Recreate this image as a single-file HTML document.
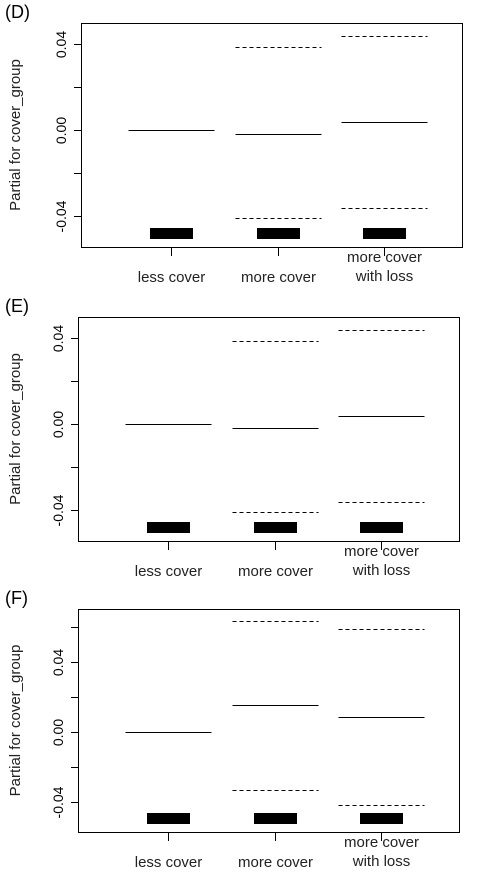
<!DOCTYPE html>
<html><head><meta charset="utf-8"><style>
body{margin:0;background:#fff;width:499px;height:879px;overflow:hidden}
svg{display:block;font-family:"Liberation Sans",sans-serif}
</style></head><body>
<svg id="s" width="499" height="879"></svg>
<script>
const categories=["less cover","more cover","more cover\nwith loss"];
const panelLabels=["(D)","(E)","(F)"];
const fitD=[0,-0.0018,0.004], upperD=[null,0.039,0.044], lowerD=[null,-0.041,-0.036];
const fitE=[0,-0.0018,0.004], upperE=[null,0.039,0.044], lowerE=[null,-0.041,-0.036];
const fitF=[0,0.0154,0.0086], upperF=[null,0.0634,0.0589], lowerF=[null,-0.033,-0.0417];
const ticksDE=[-0.04,-0.02,0,0.02,0.04];
const tickLabelsDE=["-0.04","","0.00","","0.04"];
const ticksF=[-0.04,-0.02,0,0.02,0.04,0.06];
const tickLabelsF=["-0.04","","0.00","","0.04",""];
const panels=[
 {name:"d",left:81,right:462,top:23,bottom:247,ymin:-0.0543,ymax:0.05,fit:fitD,up:upperD,lo:lowerD,ticks:ticksDE,tl:tickLabelsDE,c0:171,step:106.5},
 {name:"e",left:78,right:459,top:317,bottom:541,ymin:-0.0543,ymax:0.05,fit:fitE,up:upperE,lo:lowerE,ticks:ticksDE,tl:tickLabelsDE,c0:168,step:106.5},
 {name:"f",left:78,right:459,top:609,bottom:832,ymin:-0.0571,ymax:0.0703,fit:fitF,up:upperF,lo:lowerF,ticks:ticksF,tl:tickLabelsF,c0:168,step:106.5}
];
const NS="http://www.w3.org/2000/svg",svg=document.getElementById('s');
function mk(t,a,p){const e=document.createElementNS(NS,t);for(const k in a)e.setAttribute(k,a[k]);(p||svg).appendChild(e);return e;}
panels.forEach((P,pi)=>{
 const g=mk('g',{});
 
 
 const y=v=>P.bottom-(v-P.ymin)/(P.ymax-P.ymin)*(P.bottom-P.top);
 const x=i=>P.c0+i*P.step;
 const lab=mk('text',{x:5,y:P.top-5,'font-size':18},g);lab.textContent=panelLabels[pi];
 
 const box=mk('rect',{x:P.left+.5,y:P.top+.5,width:P.right-P.left,height:P.bottom-P.top,fill:'none',stroke:'#000'},g);
 
 P.ticks.forEach((t,i)=>{
  const yy=Math.round(y(t))+.5;
  const tk=mk('line',{x1:P.left-7,x2:P.left,y1:yy,y2:yy,stroke:'#000'},g);
  
  if(P.tl[i]){const tx=mk('text',{x:0,y:0,'font-size':14,'text-anchor':'middle',transform:`translate(${P.left-15},${yy}) rotate(-90)`},g);tx.textContent=P.tl[i];
   }
 });
 const yt=mk('text',{x:0,y:0,'font-size':15,'text-anchor':'middle',fill:'#222',transform:`translate(20,${(P.top+P.bottom)/2}) rotate(-90)`},g);
 yt.textContent='Partial for cover_group';
 
 categories.forEach((c,i)=>{
  const cx=Math.round(x(i))+.5;
  const xt=mk('line',{x1:cx,x2:cx,y1:P.bottom,y2:P.bottom+9,stroke:'#000'},g);
  
  const lines=c.split('\n');
  lines.forEach((l,j)=>{const t=mk('text',{x:cx,y:lines.length>1?P.bottom+15+j*19:P.bottom+35,'font-size':15,'text-anchor':'middle',fill:'#222'},g);t.textContent=l;
   });
  const f=mk('line',{x1:cx-43,x2:cx+43,y1:Math.round(y(P.fit[i]))+.5,y2:Math.round(y(P.fit[i]))+.5,stroke:'#000'},g);
  
  [P.up[i],P.lo[i]].forEach(v=>{if(v===null)return;
   const d=mk('line',{x1:cx-43,x2:cx+43,y1:Math.round(y(v))+.5,y2:Math.round(y(v))+.5,stroke:'#000','stroke-dasharray':'4,3'},g);
   });
  const r=mk('rect',{x:cx-21.5,y:P.bottom-19,width:43,height:11,fill:'#000'},g);
  
 });
});
</script>
</body></html>
